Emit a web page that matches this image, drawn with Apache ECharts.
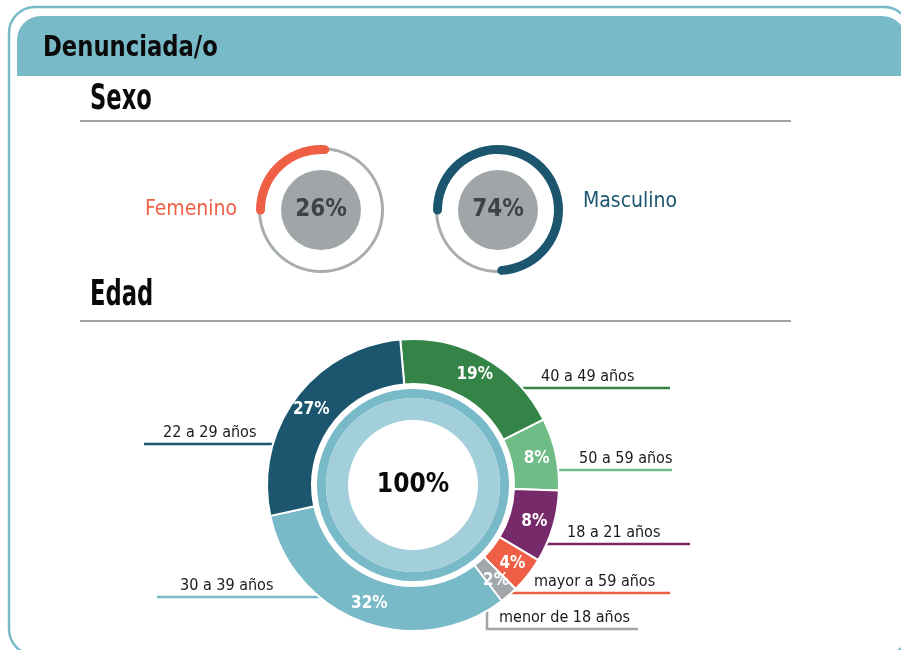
<!DOCTYPE html>
<html>
<head>
<meta charset="utf-8">
<script src="https://cdn.jsdelivr.net/npm/echarts@6/dist/echarts.min.js"></script>
<style>
  html, body { margin: 0; padding: 0; background: #fff; }
  #main { width: 901px; height: 650px; }
</style>
</head>
<body>
<div id="main"></div>
<script>
// datos: sexo
const sexNames = ['Femenino', 'Masculino']
const sexShare = [26, 74]
// datos: edad (en sentido horario desde arriba)
const ageNames = ['40 a 49 años', '50 a 59 años', '18 a 21 años', 'mayor a 59 años', 'menor de 18 años', '30 a 39 años', '22 a 29 años']
const ageShare = [19, 8, 8, 4, 2, 32, 27]

const sexColors = ['#ee5f45', '#1b566e']
const ageColors = ['#358447', '#70bc86', '#772a6a', '#ee5f45', '#a0a6a9', '#78bac8', '#1b566e']

const FONT = '"Liberation Sans Narrow", "DejaVu Sans Condensed", sans-serif'

// geometría del anillo de edad
const cx = 413
const cy = 485
const R = 146

// dónde va cada etiqueta de edad (línea horizontal bajo el texto)
const ageLabelSpots = [
  { lineY: 388, endX: 670, textX: 541 },
  { lineY: 470, endX: 672, textX: 579 },
  { lineY: 544, endX: 690, textX: 567 },
  { lineY: 593, endX: 670, textX: 534 },
  { lineY: 629, endX: 638, textX: 499, elbowX: 487 },
  { lineY: 597, endX: 157, textX: 180 },
  { lineY: 444, endX: 144, textX: 163 }
]

const myChart = echarts.init(document.getElementById('main'))

const sexCenters = [[321, 210], [498, 210]]
const sexTitleOffsets = [[-130, 0], [132, -8]]

const sexSeries = []
sexShare.forEach(function (v, i) {
  // aro fino gris
  sexSeries.push({
    type: 'pie',
    silent: true,
    center: sexCenters[i],
    radius: [60, 63],
    label: { show: false },
    labelLine: { show: false },
    itemStyle: { color: '#a8adb0' },
    data: [{ value: 1 }]
  })
  // disco gris con el porcentaje
  sexSeries.push({
    type: 'pie',
    silent: true,
    center: sexCenters[i],
    radius: [0, 40],
    label: {
      show: true,
      position: 'center',
      formatter: '{c}%',
      fontFamily: FONT,
      fontWeight: 'bold',
      fontSize: 24,
      color: '#3d4346'
    },
    labelLine: { show: false },
    itemStyle: { color: '#a0a6a8' },
    data: [{ value: v }]
  })
  // arco de progreso
  sexSeries.push({
    type: 'gauge',
    center: sexCenters[i],
    radius: 65,
    startAngle: 180,
    endAngle: -180,
    min: 0,
    max: 100,
    progress: { show: true, width: 9, roundCap: true, itemStyle: { color: sexColors[i] } },
    axisLine: { show: false },
    axisTick: { show: false },
    splitLine: { show: false },
    axisLabel: { show: false },
    pointer: { show: false },
    anchor: { show: false },
    detail: { show: false },
    title: {
      show: true,
      offsetCenter: sexTitleOffsets[i],
      fontFamily: FONT,
      fontSize: 21,
      color: sexColors[i]
    },
    data: [{ value: v, name: sexNames[i] }]
  })
})

const ageData = ageNames.map(function (n, i) {
  return { name: n, value: ageShare[i], itemStyle: { color: ageColors[i] } }
})
const ageTotal = ageShare.reduce(function (a, b) { return a + b }, 0)

const option = {
  animation: false,
  graphic: [
    // marco exterior
    {
      type: 'rect',
      shape: { x: 9, y: 7, width: 901, height: 648, r: 26 },
      style: { fill: 'none', stroke: '#78bac8', lineWidth: 2.5 },
      z: 0
    },
    // banda de cabecera
    {
      type: 'rect',
      shape: { x: 17, y: 16, width: 889, height: 60, r: [24, 24, 0, 0] },
      style: { fill: '#78bac8' },
      z: 0
    },
    {
      type: 'text',
      x: 43, y: 48, scaleX: 0.87,
      style: { text: 'Denunciada/o', font: 'bold 29px ' + FONT, fill: '#0a0a0a', verticalAlign: 'middle' }
    },
    {
      type: 'text',
      x: 90, y: 100, scaleX: 0.72,
      style: { text: 'Sexo', font: 'bold 35px ' + FONT, fill: '#0a0a0a', verticalAlign: 'middle' }
    },
    {
      type: 'line',
      shape: { x1: 80, y1: 121, x2: 791, y2: 121 },
      style: { stroke: '#a3a3a3', lineWidth: 2 }
    },
    {
      type: 'text',
      x: 90, y: 296, scaleX: 0.72,
      style: { text: 'Edad', font: 'bold 35px ' + FONT, fill: '#0a0a0a', verticalAlign: 'middle' }
    },
    {
      type: 'line',
      shape: { x1: 80, y1: 321, x2: 791, y2: 321 },
      style: { stroke: '#a3a3a3', lineWidth: 2 }
    }
  ],
  series: sexSeries.concat([
    // anillo interior
    {
      type: 'pie',
      silent: true,
      center: [cx, cy],
      radius: [87, 96],
      label: { show: false },
      labelLine: { show: false },
      itemStyle: { color: '#78bac8' },
      data: [{ value: ageTotal }]
    },
    {
      type: 'pie',
      silent: true,
      center: [cx, cy],
      radius: [65, 87],
      label: {
        show: true,
        position: 'center',
        formatter: '{c}%',
        fontFamily: FONT,
        fontWeight: 'bold',
        fontSize: 26,
        color: '#0a0a0a'
      },
      labelLine: { show: false },
      itemStyle: { color: '#a3cfdb' },
      data: [{ value: ageTotal }]
    },
    // anillo de edades con nombres
    {
      type: 'pie',
      center: [cx, cy],
      radius: [101, R],
      startAngle: 95,
      clockwise: true,
      avoidLabelOverlap: false,
      itemStyle: { borderColor: '#fff', borderWidth: 2 },
      label: {
        show: true,
        position: 'outside',
        formatter: '{b}',
        fontFamily: FONT,
        fontSize: 16,
        color: '#1a1a1a'
      },
      labelLine: { show: true, lineStyle: { width: 2.5 } },
      labelLayout: function (params) {
        const s = ageLabelSpots[params.dataIndex]
        let pts
        if (s.elbowX) {
          const topY = cy + Math.sqrt(R * R - (s.elbowX - cx) * (s.elbowX - cx))
          pts = [[s.elbowX, topY - 2], [s.elbowX, s.lineY], [s.endX, s.lineY]]
        } else {
          const dy = s.lineY - cy
          const dx = Math.sqrt(Math.max(R * R - dy * dy, 0))
          const startX = s.endX > cx ? cx + dx - 3 : cx - dx + 3
          pts = [[startX, s.lineY], [(startX + s.endX) / 2, s.lineY], [s.endX, s.lineY]]
        }
        return {
          x: s.textX,
          y: s.lineY - 3,
          align: 'left',
          verticalAlign: 'bottom',
          labelLinePoints: pts
        }
      },
      data: ageData
    },
    // porcentajes dentro de cada tramo
    {
      type: 'pie',
      silent: true,
      center: [cx, cy],
      radius: [101, R],
      startAngle: 95,
      clockwise: true,
      avoidLabelOverlap: false,
      itemStyle: { color: 'rgba(0,0,0,0)' },
      label: {
        show: true,
        position: 'inside',
        formatter: '{c}%',
        fontFamily: FONT,
        fontWeight: 'bold',
        fontSize: 17,
        color: '#ffffff'
      },
      labelLine: { show: false },
      data: ageShare.map(function (v) { return { value: v } })
    }
  ])
}

myChart.setOption(option)
</script>
</body>
</html>
